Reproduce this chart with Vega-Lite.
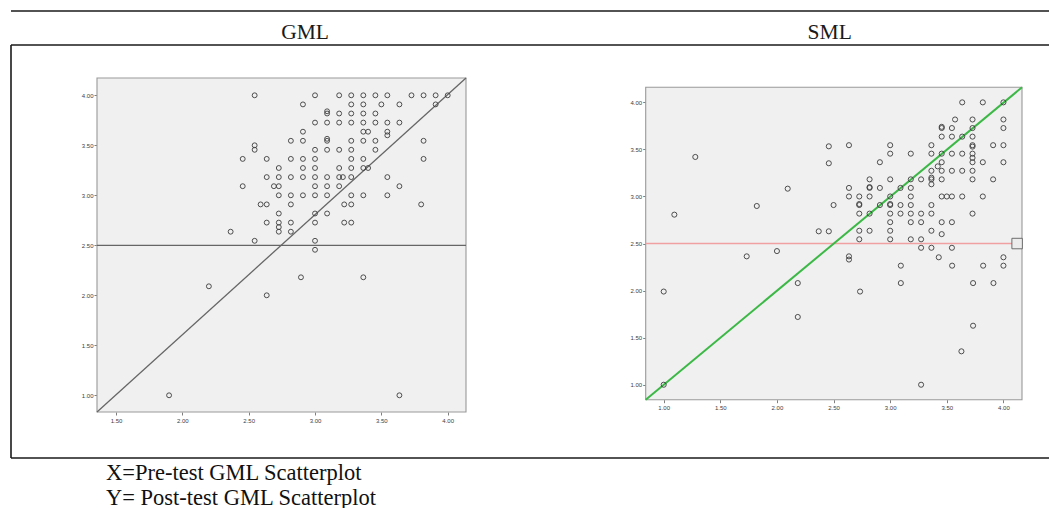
{
  "$schema": "https://vega.github.io/schema/vega-lite/v6.json",
  "background": "white",
  "padding": {"left": 10, "top": 10, "right": 0, "bottom": 0},
  "spacing": 0,
  "config": {"view": {"stroke": null}, "concat": {"spacing": 0}},
  "title": {
    "text": ["X=Pre-test GML Scatterplot", "Y= Post-test GML Scatterplot"],
    "orient": "bottom", "anchor": "start", "frame": "group",
    "dx": 95, "offset": 3, "font": "Liberation Serif", "fontSize": 22.5,
    "fontWeight": "normal", "color": "#111111", "lineHeight": 25, "baseline": "top"
  },
  "datasets": {
    "gml": [
      {"pre": 2.545, "post": 4.0}, {"pre": 2.545, "post": 3.5}, {"pre": 2.545, "post": 3.455},
      {"pre": 2.455, "post": 3.364}, {"pre": 2.636, "post": 3.364}, {"pre": 2.636, "post": 3.182},
      {"pre": 2.455, "post": 3.091}, {"pre": 2.69, "post": 3.091}, {"pre": 2.59, "post": 2.909},
      {"pre": 2.636, "post": 2.909}, {"pre": 2.636, "post": 2.727}, {"pre": 2.364, "post": 2.636},
      {"pre": 2.545, "post": 2.545},
      {"pre": 2.727, "post": 3.273}, {"pre": 2.727, "post": 3.182}, {"pre": 2.727, "post": 3.091},
      {"pre": 2.727, "post": 3.0}, {"pre": 2.727, "post": 2.818}, {"pre": 2.727, "post": 2.727},
      {"pre": 2.727, "post": 2.682}, {"pre": 2.727, "post": 2.636},
      {"pre": 2.2, "post": 2.09}, {"pre": 2.636, "post": 2.0}, {"pre": 2.894, "post": 2.18},
      {"pre": 3.364, "post": 2.18}, {"pre": 1.9, "post": 1.0}, {"pre": 3.636, "post": 1.0},
      {"pre": 3.0, "post": 4.0}, {"pre": 3.182, "post": 4.0}, {"pre": 3.273, "post": 4.0},
      {"pre": 3.364, "post": 4.0}, {"pre": 3.455, "post": 4.0}, {"pre": 3.545, "post": 4.0},
      {"pre": 3.727, "post": 4.0}, {"pre": 3.818, "post": 4.0}, {"pre": 3.909, "post": 4.0},
      {"pre": 4.0, "post": 4.0},
      {"pre": 2.909, "post": 3.909}, {"pre": 3.273, "post": 3.909}, {"pre": 3.364, "post": 3.909},
      {"pre": 3.5, "post": 3.909}, {"pre": 3.636, "post": 3.909}, {"pre": 3.909, "post": 3.909},
      {"pre": 3.091, "post": 3.818}, {"pre": 3.091, "post": 3.84}, {"pre": 3.182, "post": 3.818},
      {"pre": 3.273, "post": 3.818}, {"pre": 3.364, "post": 3.818}, {"pre": 3.455, "post": 3.818},
      {"pre": 3.0, "post": 3.727}, {"pre": 3.091, "post": 3.727}, {"pre": 3.182, "post": 3.727},
      {"pre": 3.273, "post": 3.727}, {"pre": 3.364, "post": 3.727}, {"pre": 3.455, "post": 3.727},
      {"pre": 3.545, "post": 3.727}, {"pre": 3.636, "post": 3.727},
      {"pre": 2.909, "post": 3.636}, {"pre": 3.364, "post": 3.636}, {"pre": 3.4, "post": 3.636},
      {"pre": 3.545, "post": 3.636}, {"pre": 3.545, "post": 3.6},
      {"pre": 2.818, "post": 3.545}, {"pre": 2.909, "post": 3.545}, {"pre": 3.091, "post": 3.545},
      {"pre": 3.091, "post": 3.565}, {"pre": 3.273, "post": 3.545}, {"pre": 3.364, "post": 3.545},
      {"pre": 3.455, "post": 3.545}, {"pre": 3.818, "post": 3.545},
      {"pre": 3.0, "post": 3.455}, {"pre": 3.091, "post": 3.455}, {"pre": 3.182, "post": 3.455},
      {"pre": 3.273, "post": 3.455}, {"pre": 3.455, "post": 3.455},
      {"pre": 2.818, "post": 3.364}, {"pre": 2.909, "post": 3.364}, {"pre": 3.0, "post": 3.364},
      {"pre": 3.273, "post": 3.364}, {"pre": 3.364, "post": 3.364}, {"pre": 3.818, "post": 3.364},
      {"pre": 2.909, "post": 3.273}, {"pre": 3.0, "post": 3.273}, {"pre": 3.182, "post": 3.273},
      {"pre": 3.273, "post": 3.273}, {"pre": 3.364, "post": 3.273}, {"pre": 3.4, "post": 3.273},
      {"pre": 2.818, "post": 3.182}, {"pre": 2.909, "post": 3.182}, {"pre": 3.0, "post": 3.182},
      {"pre": 3.091, "post": 3.182}, {"pre": 3.182, "post": 3.182}, {"pre": 3.21, "post": 3.182},
      {"pre": 3.273, "post": 3.182}, {"pre": 3.545, "post": 3.182},
      {"pre": 3.0, "post": 3.091}, {"pre": 3.091, "post": 3.091}, {"pre": 3.182, "post": 3.091},
      {"pre": 3.636, "post": 3.091},
      {"pre": 2.818, "post": 3.0}, {"pre": 2.909, "post": 3.0}, {"pre": 3.0, "post": 3.0},
      {"pre": 3.091, "post": 3.0}, {"pre": 3.273, "post": 3.0}, {"pre": 3.364, "post": 3.0},
      {"pre": 3.545, "post": 3.0},
      {"pre": 2.818, "post": 2.909}, {"pre": 3.22, "post": 2.909}, {"pre": 3.273, "post": 2.909},
      {"pre": 3.8, "post": 2.909},
      {"pre": 3.0, "post": 2.818}, {"pre": 3.091, "post": 2.818},
      {"pre": 2.818, "post": 2.727}, {"pre": 3.0, "post": 2.727}, {"pre": 3.22, "post": 2.727},
      {"pre": 3.273, "post": 2.727},
      {"pre": 2.818, "post": 2.636}, {"pre": 3.0, "post": 2.545}, {"pre": 3.0, "post": 2.455}
    ],
    "sml": [
      {"pre": 3.636, "post": 4.0}, {"pre": 3.818, "post": 4.0}, {"pre": 4.0, "post": 4.0},
      {"pre": 3.573, "post": 3.818}, {"pre": 3.727, "post": 3.818}, {"pre": 4.0, "post": 3.818},
      {"pre": 3.455, "post": 3.727}, {"pre": 3.455, "post": 3.74}, {"pre": 3.545, "post": 3.727},
      {"pre": 3.727, "post": 3.727}, {"pre": 4.0, "post": 3.727},
      {"pre": 3.455, "post": 3.636}, {"pre": 3.545, "post": 3.636}, {"pre": 3.636, "post": 3.636},
      {"pre": 3.727, "post": 3.636},
      {"pre": 2.458, "post": 3.533}, {"pre": 2.636, "post": 3.545}, {"pre": 3.0, "post": 3.545},
      {"pre": 3.364, "post": 3.545}, {"pre": 3.727, "post": 3.545}, {"pre": 3.727, "post": 3.53},
      {"pre": 3.909, "post": 3.545}, {"pre": 4.0, "post": 3.545},
      {"pre": 3.0, "post": 3.455}, {"pre": 3.182, "post": 3.455}, {"pre": 3.364, "post": 3.455},
      {"pre": 3.455, "post": 3.455}, {"pre": 3.545, "post": 3.455}, {"pre": 3.636, "post": 3.455},
      {"pre": 3.727, "post": 3.455}, {"pre": 3.727, "post": 3.41},
      {"pre": 2.458, "post": 3.353}, {"pre": 2.909, "post": 3.364}, {"pre": 3.455, "post": 3.364},
      {"pre": 3.727, "post": 3.364}, {"pre": 3.818, "post": 3.364}, {"pre": 4.0, "post": 3.364},
      {"pre": 3.42, "post": 3.32},
      {"pre": 3.364, "post": 3.273}, {"pre": 3.455, "post": 3.273}, {"pre": 3.545, "post": 3.273},
      {"pre": 3.636, "post": 3.273}, {"pre": 3.727, "post": 3.273},
      {"pre": 2.818, "post": 3.182}, {"pre": 3.0, "post": 3.182}, {"pre": 3.182, "post": 3.182},
      {"pre": 3.273, "post": 3.182}, {"pre": 3.364, "post": 3.182}, {"pre": 3.364, "post": 3.2},
      {"pre": 3.455, "post": 3.182}, {"pre": 3.727, "post": 3.182}, {"pre": 3.909, "post": 3.182},
      {"pre": 3.364, "post": 3.13},
      {"pre": 2.636, "post": 3.091}, {"pre": 2.818, "post": 3.091}, {"pre": 2.818, "post": 3.1},
      {"pre": 2.909, "post": 3.091}, {"pre": 3.091, "post": 3.091}, {"pre": 3.182, "post": 3.091},
      {"pre": 2.095, "post": 3.083},
      {"pre": 2.636, "post": 3.0}, {"pre": 2.727, "post": 3.0}, {"pre": 2.818, "post": 3.0},
      {"pre": 3.0, "post": 3.0}, {"pre": 3.182, "post": 3.0}, {"pre": 3.455, "post": 3.0},
      {"pre": 3.5, "post": 3.0}, {"pre": 3.545, "post": 3.0}, {"pre": 3.636, "post": 3.0},
      {"pre": 3.818, "post": 3.0},
      {"pre": 2.5, "post": 2.909}, {"pre": 2.727, "post": 2.909}, {"pre": 2.727, "post": 2.92},
      {"pre": 2.909, "post": 2.909}, {"pre": 3.0, "post": 2.909}, {"pre": 3.0, "post": 2.92},
      {"pre": 3.091, "post": 2.909}, {"pre": 3.182, "post": 2.909}, {"pre": 3.364, "post": 2.909},
      {"pre": 2.727, "post": 2.818}, {"pre": 2.818, "post": 2.818}, {"pre": 3.0, "post": 2.818},
      {"pre": 3.091, "post": 2.818}, {"pre": 3.182, "post": 2.818}, {"pre": 3.273, "post": 2.818},
      {"pre": 3.364, "post": 2.818}, {"pre": 3.727, "post": 2.818},
      {"pre": 3.0, "post": 2.727}, {"pre": 3.182, "post": 2.727}, {"pre": 3.273, "post": 2.727},
      {"pre": 3.455, "post": 2.727}, {"pre": 3.545, "post": 2.727},
      {"pre": 2.727, "post": 2.636}, {"pre": 2.818, "post": 2.636}, {"pre": 3.0, "post": 2.636},
      {"pre": 3.364, "post": 2.636}, {"pre": 2.369, "post": 2.63}, {"pre": 2.458, "post": 2.63},
      {"pre": 3.455, "post": 2.6},
      {"pre": 2.727, "post": 2.545}, {"pre": 3.0, "post": 2.545}, {"pre": 3.182, "post": 2.545},
      {"pre": 3.273, "post": 2.545},
      {"pre": 3.273, "post": 2.455}, {"pre": 3.364, "post": 2.455}, {"pre": 3.545, "post": 2.455},
      {"pre": 2.636, "post": 2.364}, {"pre": 2.636, "post": 2.33}, {"pre": 4.0, "post": 2.354},
      {"pre": 3.429, "post": 2.354},
      {"pre": 2.734, "post": 1.99}, {"pre": 3.094, "post": 2.265}, {"pre": 3.094, "post": 2.08},
      {"pre": 3.273, "post": 1.0}, {"pre": 3.547, "post": 2.265}, {"pre": 3.732, "post": 2.08},
      {"pre": 3.732, "post": 1.627}, {"pre": 3.629, "post": 1.355}, {"pre": 3.821, "post": 2.265},
      {"pre": 3.912, "post": 2.08}, {"pre": 4.0, "post": 2.265},
      {"pre": 1.279, "post": 3.42}, {"pre": 1.094, "post": 2.807}, {"pre": 1.822, "post": 2.899},
      {"pre": 2.0, "post": 2.42}, {"pre": 1.733, "post": 2.364}, {"pre": 1.0, "post": 1.99},
      {"pre": 2.184, "post": 2.08}, {"pre": 2.184, "post": 1.72}, {"pre": 1.0, "post": 1.0}
    ]
  },
  "vconcat": [
    {
      "width": 1039,
      "height": 32,
      "data": {"values": [{}]},
      "layer": [
        {
          "mark": {"type": "rule", "stroke": "#1a1a1a", "strokeWidth": 1.6},
          "encoding": {"y": {"datum": 1, "type": "quantitative", "scale": {"domain": [0, 1]}, "axis": null}}
        },
        {
          "mark": {"type": "text", "font": "Liberation Serif", "fontSize": 21.5, "baseline": "alphabetic", "align": "center", "color": "#1a1a1a"},
          "encoding": {
            "x": {"datum": 0.283, "type": "quantitative", "scale": {"domain": [0, 1]}, "axis": null},
            "y": {"datum": 0.12, "type": "quantitative", "scale": {"domain": [0, 1]}, "axis": null},
            "text": {"value": "GML"}
          }
        },
        {
          "mark": {"type": "text", "font": "Liberation Serif", "fontSize": 21.5, "baseline": "alphabetic", "align": "center", "color": "#1a1a1a"},
          "encoding": {
            "x": {"datum": 0.788, "type": "quantitative", "scale": {"domain": [0, 1]}, "axis": null},
            "y": {"datum": 0.12, "type": "quantitative", "scale": {"domain": [0, 1]}, "axis": null},
            "text": {"value": "SML"}
          }
        }
      ]
    },
    {
      "width": 1039,
      "height": 413,
      "layer": [
        {
          "data": {"values": [{}]},
          "layer": [
            {
              "mark": {"type": "rule", "stroke": "#1a1a1a", "strokeWidth": 1.6},
              "encoding": {"y": {"datum": 1, "type": "quantitative", "scale": {"domain": [0, 1]}, "axis": null}}
            },
            {
              "mark": {"type": "rule", "stroke": "#1a1a1a", "strokeWidth": 1.6},
              "encoding": {"y": {"datum": 0, "type": "quantitative", "scale": {"domain": [0, 1]}, "axis": null}}
            },
            {
              "mark": {"type": "rule", "stroke": "#1a1a1a", "strokeWidth": 1.6},
              "encoding": {"x": {"datum": 0, "type": "quantitative", "scale": {"domain": [0, 1]}, "axis": null}}
            }
          ]
        },
        {
          "layer": [
            {
              "data": {"values": [{}]},
              "mark": {"type": "rect", "fill": "#f0f0f0", "stroke": "#999999", "strokeWidth": 1.1},
              "encoding": {
                "x": {"datum": 1.3568, "type": "quantitative",
                  "scale": {"domain": [1.3568, 4.1379], "range": [86, 455], "nice": false, "zero": false},
                  "axis": {"orient": "bottom", "offset": -46, "values": [1.5, 2, 2.5, 3, 3.5, 4], "format": ".2f", "title": null, "domain": false, "grid": false, "tickSize": 3, "tickColor": "#707070", "tickWidth": 0.9, "labelFontSize": 6, "labelColor": "#404040", "labelFont": "Liberation Sans", "labelPadding": 2, "labelFlush": false, "labelOverlap": false}},
                "x2": {"datum": 4.1379},
                "y": {"datum": 0.833, "type": "quantitative",
                  "scale": {"domain": [0.833, 4.173], "range": [367, 33], "nice": false, "zero": false},
                  "axis": {"orient": "left", "offset": -86, "values": [1, 1.5, 2, 2.5, 3, 3.5, 4], "format": ".2f", "title": null, "domain": false, "grid": false, "tickSize": 3, "tickColor": "#707070", "tickWidth": 0.9, "labelFontSize": 6, "labelColor": "#404040", "labelFont": "Liberation Sans", "labelPadding": 1, "labelFlush": false, "labelOverlap": false}},
                "y2": {"datum": 4.173}
              }
            },
            {
              "data": {"values": [{}]},
              "mark": {"type": "rule", "stroke": "#666666", "strokeWidth": 1.3},
              "encoding": {
                "x": {"datum": 1.3568, "type": "quantitative"},
                "x2": {"datum": 4.1379},
                "y": {"datum": 2.5, "type": "quantitative"}
              }
            },
            {
              "data": {"values": [{}]},
              "mark": {"type": "rule", "stroke": "#666666", "strokeWidth": 1.3},
              "encoding": {
                "x": {"datum": 1.3568, "type": "quantitative"},
                "x2": {"datum": 4.1379},
                "y": {"datum": 0.833, "type": "quantitative"},
                "y2": {"datum": 4.173}
              }
            },
            {
              "data": {"name": "gml"},
              "mark": {"type": "point", "shape": "circle", "filled": false, "stroke": "#3c3c3c", "strokeWidth": 0.9, "size": 24, "opacity": 1},
              "encoding": {
                "x": {"field": "pre", "type": "quantitative", "title": null},
                "y": {"field": "post", "type": "quantitative", "title": null}
              }
            }
          ]
        },
        {
          "layer": [
            {
              "data": {"values": [{}]},
              "mark": {"type": "rect", "fill": "#f0f0f0", "stroke": "#999999", "strokeWidth": 1.1},
              "encoding": {
                "x": {"datum": 0.841, "type": "quantitative",
                  "scale": {"domain": [0.841, 4.164], "range": [634.7, 1011], "nice": false, "zero": false},
                  "axis": {"orient": "bottom", "offset": -58.3, "values": [1, 1.5, 2, 2.5, 3, 3.5, 4], "format": ".2f", "title": null, "domain": false, "grid": false, "tickSize": 3, "tickColor": "#707070", "tickWidth": 0.9, "labelFontSize": 6, "labelColor": "#404040", "labelFont": "Liberation Sans", "labelPadding": 2, "labelFlush": false, "labelOverlap": false}},
                "x2": {"datum": 4.164},
                "y": {"datum": 0.841, "type": "quantitative",
                  "scale": {"domain": [0.841, 4.16], "range": [354.7, 42.3], "nice": false, "zero": false},
                  "axis": {"orient": "left", "offset": -634.7, "values": [1, 1.5, 2, 2.5, 3, 3.5, 4], "format": ".2f", "title": null, "domain": false, "grid": false, "tickSize": 3, "tickColor": "#707070", "tickWidth": 0.9, "labelFontSize": 6, "labelColor": "#404040", "labelFont": "Liberation Sans", "labelPadding": 1, "labelFlush": false, "labelOverlap": false}},
                "y2": {"datum": 4.16}
              }
            },
            {
              "data": {"values": [{}]},
              "mark": {"type": "rule", "stroke": "#f0a0a0", "strokeWidth": 1.6},
              "encoding": {
                "x": {"datum": 0.841, "type": "quantitative"},
                "x2": {"datum": 4.164},
                "y": {"datum": 2.5, "type": "quantitative"}
              }
            },
            {
              "data": {"values": [{}]},
              "mark": {"type": "point", "shape": "square", "size": 110, "filled": true, "fill": "#ececec", "stroke": "#606060", "strokeWidth": 0.9, "opacity": 1},
              "encoding": {
                "x": {"datum": 4.121, "type": "quantitative"},
                "y": {"datum": 2.5, "type": "quantitative"}
              }
            },
            {
              "data": {"values": [{}]},
              "mark": {"type": "rule", "stroke": "#3cb846", "strokeWidth": 2},
              "encoding": {
                "x": {"datum": 0.841, "type": "quantitative"},
                "x2": {"datum": 4.164},
                "y": {"datum": 0.841, "type": "quantitative"},
                "y2": {"datum": 4.16}
              }
            },
            {
              "data": {"name": "sml"},
              "mark": {"type": "point", "shape": "circle", "filled": false, "stroke": "#3c3c3c", "strokeWidth": 0.9, "size": 26, "opacity": 1},
              "encoding": {
                "x": {"field": "pre", "type": "quantitative", "title": null},
                "y": {"field": "post", "type": "quantitative", "title": null}
              }
            }
          ]
        }
      ],
      "resolve": {
        "scale": {"x": "independent", "y": "independent"},
        "axis": {"x": "independent", "y": "independent"}
      }
    }
  ]
}
